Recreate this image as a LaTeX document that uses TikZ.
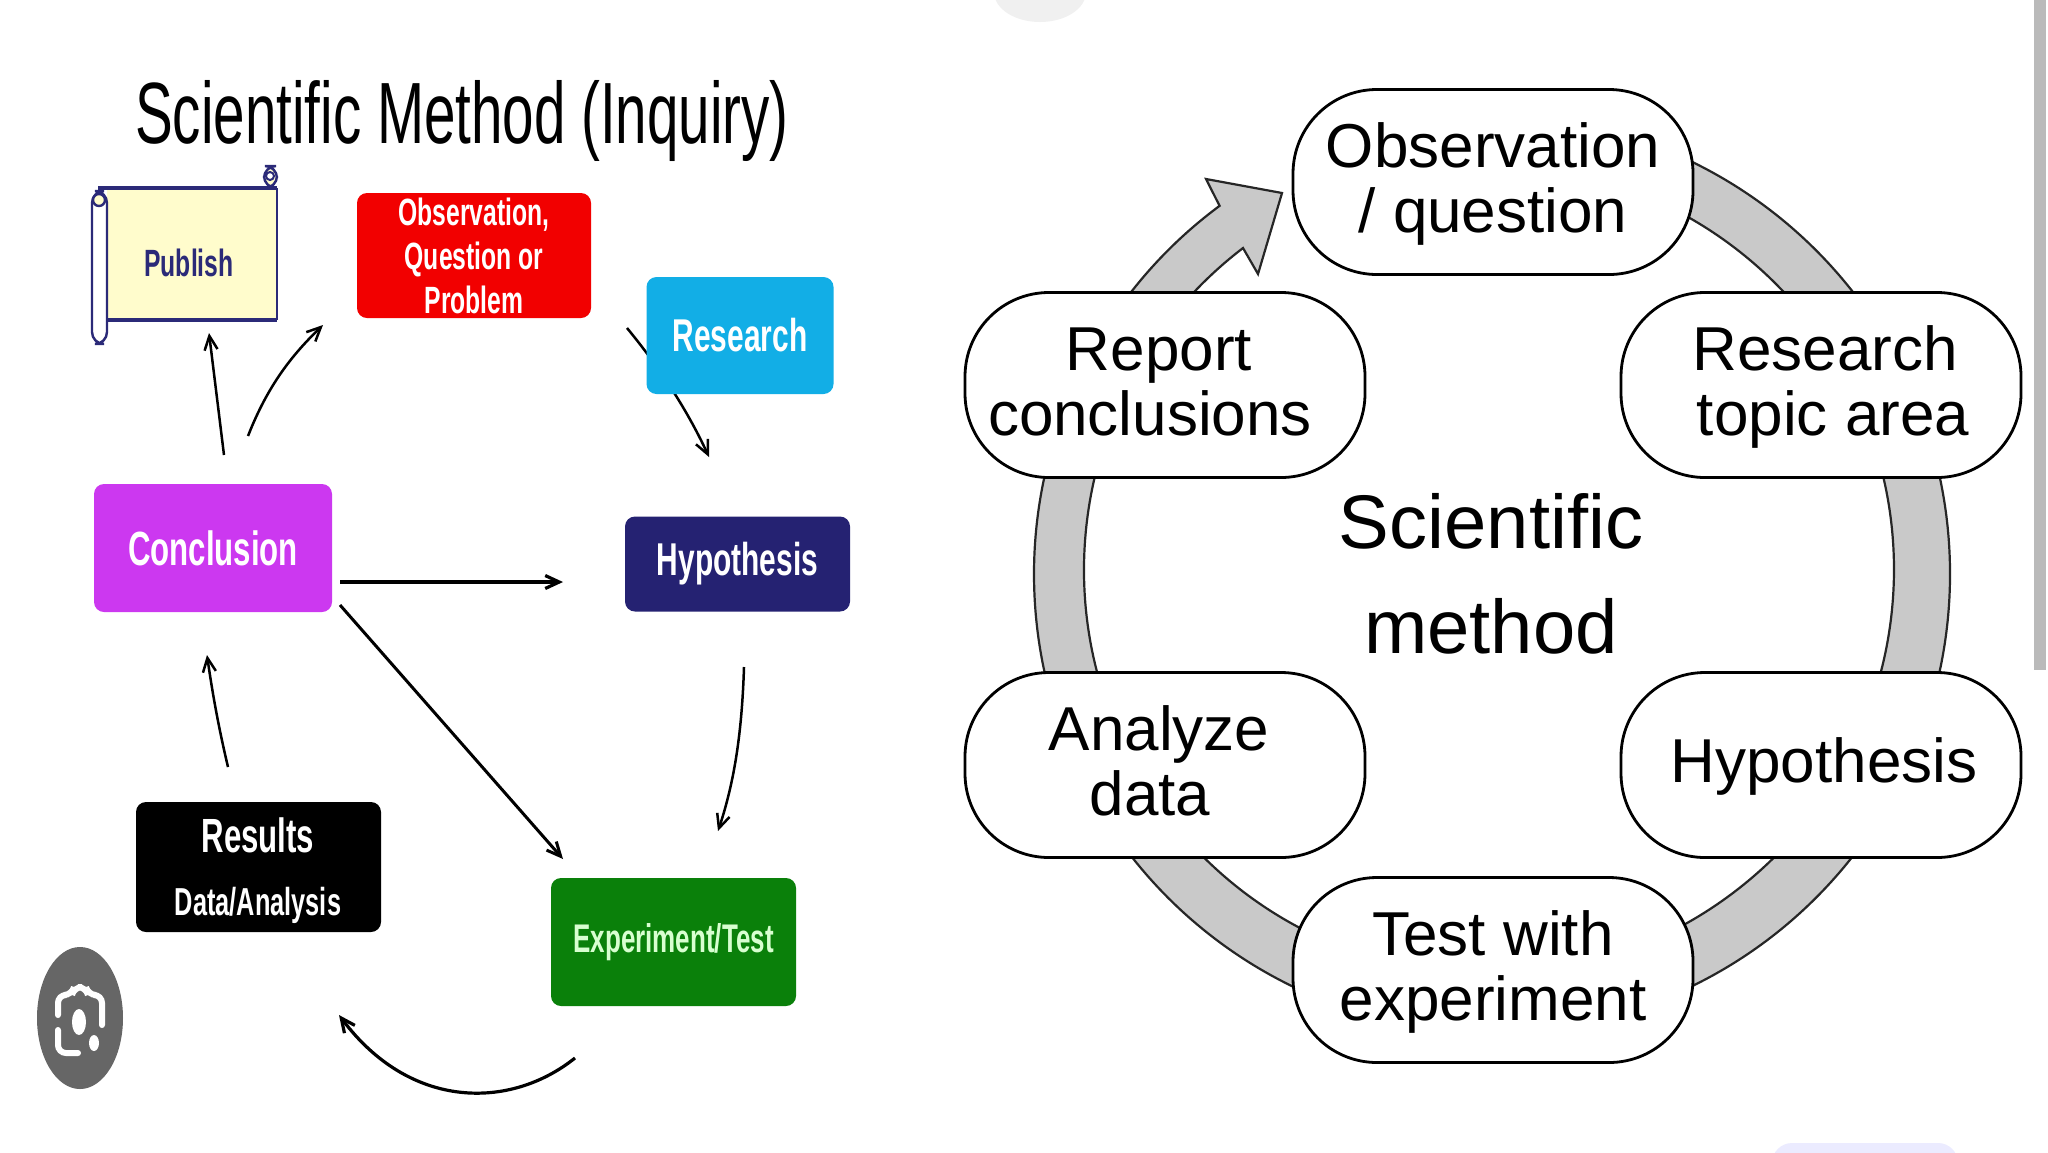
\documentclass[tikz,border=0pt]{standalone}
\usepackage{fontspec}
\setmainfont{Liberation Sans}
\newfontfamily\narrowfont[FakeStretch=.65]{Liberation Sans}
\usetikzlibrary{arrows.meta}
\definecolor{bandgrey}{HTML}{C9C9C9}
\definecolor{scrollblue}{HTML}{2B2A78}
\newcommand{\pillstrut}{\rule[-7.5pt]{0pt}{32.5pt}}
\tikzset{
	pill/.style={draw=black,fill=white,line width=1.4pt,rectangle,rounded corners=42pt,minimum width=200pt,minimum height=92.5pt,inner sep=0pt,align=center,font=\fontsize{31}{32.5}\selectfont},
	colbox/.style={rectangle,rounded corners=5pt,inner sep=0pt,align=center,text=white},
	handarrow/.style={-{Straight Barb[length=7pt,width=6.5pt]},line width=1.25pt,black},
}
\begin{document}
\begin{tikzpicture}[x=.5pt,y=-.5pt]
	\useasboundingbox (0,0) rectangle (2048,1152);
	\fill[white] (0,0) rectangle (2048,1152);
	% screen bits
	\fill[black!6] (1040,-8) ellipse (46 and 30);
	\fill[black!27] (2034,0) rectangle (2046,670);
	\fill[blue!8,rounded corners=10pt] (1772,1143) rectangle (1958,1190);
	\fill[black!60] (80,1018) ellipse (43 and 71);
	\draw[white,line width=3pt,line cap=round,rounded corners=4pt] (58,1015) -- (58,995) -- (72,995) -- (74,987) -- (86,987) -- (88,995) -- (102,995) -- (102,1025);
	\draw[white,line width=3pt,line cap=round,rounded corners=4pt] (58,1030) -- (58,1053) -- (78,1053);
	\fill[white] (79,1022) ellipse (7 and 13);
	\fill[white] (94,1043) ellipse (5 and 8);
	% left
	\node[font=\narrowfont\fontsize{43.5}{43.5}\selectfont] (title) at (462,121) {Scientific Method (Inquiry)};
	\coordinate (obsout) at (627,328);
	\coordinate (hypin) at (709,457);
	\draw[handarrow] (obsout) .. controls (655,362) and (685,405) .. (hypin);
	\fill[yellow!20] (107,188) rectangle (277,320);
	\draw[scrollblue,line width=.9pt] (277,188) -- (277,320);
	\draw[scrollblue,line width=2pt] (98,188) -- (277,188);
	\draw[scrollblue,line width=2pt] (107,320) -- (277,320);
	\filldraw[fill=white,draw=scrollblue,line width=1.2pt,rounded corners=6pt] (92,191) rectangle (107,344);
	\draw[fill=yellow!20,draw=scrollblue,line width=1.2pt] (99,200) circle (6);
	\filldraw[fill=yellow!20,draw=scrollblue,line width=1.2pt,rounded corners=6pt] (264,166) rectangle (277,188);
	\draw[fill=white,draw=scrollblue,line width=1pt] (270,176) circle (4);
	\node[text=scrollblue,font=\narrowfont\bfseries\fontsize{19}{19}\selectfont] (publish) at (189,263) {Publish};
	\node[colbox,fill=red!95!black,minimum width=117pt,minimum height=62.5pt,font=\narrowfont\bfseries\fontsize{19}{22}\selectfont] (obs) at (474,255.5) {Observation,\\Question or\\Problem};
	\node[colbox,fill={rgb,255:red,18;green,174;blue,230},minimum width=93.5pt,minimum height=58.5pt,font=\narrowfont\bfseries\fontsize{23}{23}\selectfont] (research) at (740,335.5) {Research};
	\node[colbox,fill={rgb,255:red,204;green,56;blue,240},minimum width=119pt,minimum height=64pt,font=\narrowfont\bfseries\fontsize{24}{24}\selectfont] (conclusion) at (213,548) {Conclusion};
	\node[colbox,fill={rgb,255:red,37;green,34;blue,114},minimum width=112.5pt,minimum height=47.5pt,font=\narrowfont\bfseries\fontsize{23}{23}\selectfont] (hypothesis) at (737.5,564) {Hypothesis};
	\node[colbox,fill=black,minimum width=122.5pt,minimum height=65pt] (results) at (258.5,867) {};
	\node[text=white,font=\narrowfont\bfseries\fontsize{24}{24}\selectfont] (resultstxt) at (258,835) {Results};
	\node[text=white,font=\narrowfont\bfseries\fontsize{19.5}{19.5}\selectfont] (datatxt) at (258,905) {Data/Analysis};
	\node[colbox,fill={rgb,255:red,10;green,128;blue,10},text={rgb,255:red,216;green,255;blue,208},minimum width=122.5pt,minimum height=64pt,font=\narrowfont\bfseries\fontsize{20}{20}\selectfont] (experiment) at (673.5,942) {Experiment/Test};
	\coordinate (a1) at (224,455);
	\coordinate (a2) at (209,333);
	\coordinate (b1) at (248,436);
	\coordinate (b2) at (323,325);
	\coordinate (c1) at (340,582);
	\coordinate (c2) at (563,582);
	\coordinate (d1) at (340,605);
	\coordinate (d2) at (563,859);
	\coordinate (e1) at (744,667);
	\coordinate (e2) at (718,831);
	\coordinate (f1) at (575,1058);
	\coordinate (f2) at (339,1015);
	\coordinate (g1) at (228,767);
	\coordinate (g2) at (207,655);
	\draw[handarrow] (a1) -- (a2);
	\draw[handarrow] (b1) .. controls (268,385) and (292,355) .. (b2);
	\draw[handarrow,line width=1.6pt] (c1) -- (c2);
	\draw[handarrow,line width=1.5pt] (d1) -- (d2);
	\draw[handarrow] (e1) .. controls (742,730) and (735,780) .. (e2);
	\draw[handarrow,line width=1.6pt] (f1) .. controls (510,1110) and (410,1110) .. (f2);
	\draw[handarrow] (g1) .. controls (218,725) and (212,690) .. (g2);
	% right
	\filldraw[fill=bandgrey,draw=black!85,line width=1.1pt] (1492,116) arc[start angle=-90,end angle=233.5,radius=458] -- (1206,179) -- (1282,193) -- (1258,274) -- (1243,248) arc[start angle=232.6,end angle=-90,radius=405] -- cycle;
	\node[pill] (observation) at (1493,182) {\pillstrut Observation\\\pillstrut / question};
	\node[pill] (report) at (1165,385) {\pillstrut Report\hspace*{6pt}\\\pillstrut conclusions\hspace*{15pt}};
	\node[pill] (topic) at (1821,385) {\pillstrut\hspace*{4pt}Research\\\pillstrut\hspace*{12pt}topic area};
	\node[pill] (analyze) at (1165,765) {\pillstrut Analyze\hspace*{6pt}\\\pillstrut data\hspace*{15pt}};
	\node[pill] (hypo) at (1821,765) {\pillstrut\hspace*{3pt}Hypothesis};
	\node[pill] (test) at (1493,970) {\pillstrut Test with\\\pillstrut experiment};
	\node[align=center,font=\fontsize{38}{52.5}\selectfont] (centre) at (1491,574) {Scientific\\method};
\end{tikzpicture}
\end{document}
